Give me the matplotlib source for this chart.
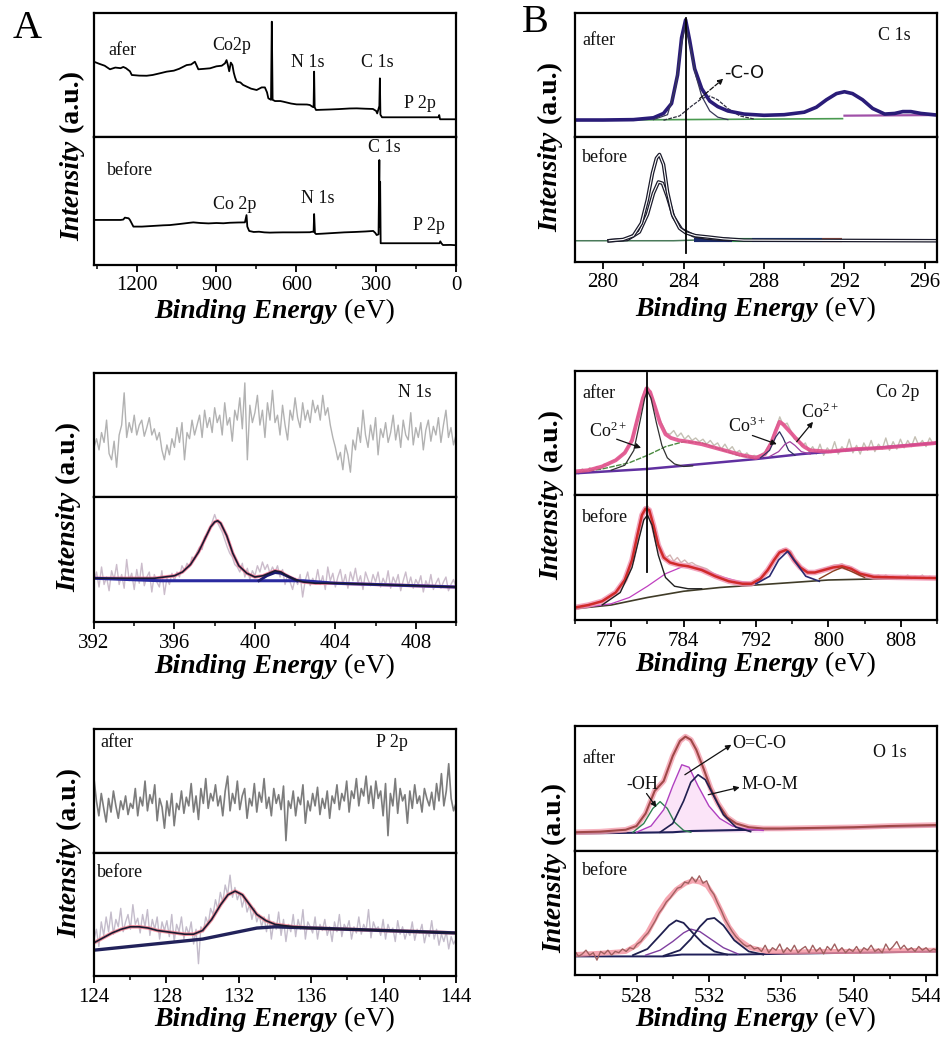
import numpy as np
import matplotlib
matplotlib.use("Agg")
import matplotlib.pyplot as plt
from matplotlib.ticker import MultipleLocator
from matplotlib.lines import Line2D
import matplotlib.transforms as mtransforms

plt.rcParams['font.family'] = ['Liberation Serif', 'DejaVu Serif']
plt.rcParams['mathtext.fontset'] = 'custom'
plt.rcParams['mathtext.rm'] = 'Liberation Serif'
plt.rcParams['mathtext.it'] = 'Liberation Serif:italic'
plt.rcParams['mathtext.bf'] = 'Liberation Serif:bold'

# ------------------------------------------------------------------ DATA
# Survey spectra (panel A top)
survey_after_ev = [1360,1340,1320,1300,1280,1260,1250,1240,1225,1218,1190,1162,1140,1110,1087,1060,1040,1012,995,981,975,968,945,924,900,880,868,862,857,852,846,840,835,830,824,810,800,786,770,749,730,718,710,705,695,692,689,680,660,649,620,599,560,549,540,535,533,531,526,500,473,440,400,373,340,312,300,296,288,286,284,278,200,100,66,63,60,30,3]
survey_after_int = [0.607,0.59,0.575,0.546,0.56,0.555,0.565,0.555,0.53,0.50,0.495,0.494,0.50,0.515,0.527,0.535,0.55,0.58,0.585,0.607,0.58,0.546,0.55,0.554,0.57,0.575,0.594,0.62,0.58,0.53,0.60,0.58,0.52,0.48,0.446,0.44,0.42,0.406,0.39,0.379,0.40,0.40,0.36,0.312,0.30,0.93,0.30,0.29,0.29,0.285,0.27,0.263,0.262,0.258,0.245,0.24,0.527,0.24,0.218,0.22,0.222,0.225,0.23,0.231,0.228,0.226,0.21,0.19,0.25,0.473,0.18,0.159,0.159,0.159,0.159,0.177,0.143,0.143,0.143]
survey_before_ev = [1360,1300,1260,1250,1244,1230,1225,1212,1180,1140,1100,1075,1040,1000,987,960,930,900,874,850,820,793,787,784,777,760,740,720,699,680,650,600,549,540,535,533,530,526,500,460,420,380,340,311,303,298,291,288,287,285,283,277,200,100,62,59,55,49,20,3]
survey_before_int = [0.352,0.352,0.352,0.355,0.37,0.365,0.352,0.30,0.30,0.305,0.31,0.312,0.32,0.33,0.333,0.328,0.325,0.328,0.326,0.33,0.332,0.333,0.39,0.30,0.266,0.258,0.26,0.255,0.253,0.254,0.255,0.255,0.256,0.26,0.258,0.398,0.25,0.242,0.245,0.25,0.255,0.258,0.262,0.266,0.25,0.234,0.24,0.82,0.30,0.65,0.17,0.17,0.17,0.17,0.17,0.185,0.17,0.156,0.157,0.155]

# N 1s
n1s_after_raw = [0.40,0.47,0.38,0.52,0.44,0.62,0.35,0.30,0.45,
 0.24,0.50,0.58,0.84,0.48,0.60,0.52,0.66,
 0.50,0.58,0.62,0.49,0.56,0.64,0.50,0.55,
 0.46,0.52,0.38,0.30,0.42,0.34,0.47,0.40,
 0.56,0.44,0.60,0.30,0.52,0.47,0.62,0.50,
 0.58,0.66,0.48,0.70,0.56,0.64,0.52,0.72,
 0.60,0.66,0.50,0.76,0.58,0.64,0.45,0.70,
 0.62,0.80,0.55,0.92,0.30,0.74,0.60,0.68,
 0.82,0.58,0.70,0.48,0.76,0.62,0.86,0.60,
 0.66,0.50,0.74,0.58,0.46,0.70,0.62,0.80,
 0.64,0.56,0.76,0.62,0.70,0.60,0.78,0.68,
 0.74,0.62,0.82,0.66,0.72,0.58,0.48,0.40,
 0.30,0.36,0.22,0.42,0.34,0.20,0.46,0.38,
 0.56,0.44,0.70,0.50,0.40,0.58,0.46,0.64,
 0.34,0.55,0.48,0.60,0.44,0.52,0.66,0.46,
 0.58,0.40,0.62,0.50,0.46,0.68,0.42,0.56,
 0.48,0.60,0.38,0.54,0.62,0.45,0.57,0.50,
 0.64,0.44,0.58,0.70,0.48,0.56,0.42,0.50]
n1s_before_raw = [0.33,0.40,0.28,0.44,0.30,0.36,0.25,0.41,0.34,
 0.46,0.30,0.38,0.27,0.50,0.33,0.39,0.26,
 0.42,0.31,0.47,0.29,0.36,0.40,0.24,0.38,
 0.32,0.28,0.41,0.22,0.35,0.30,0.39,0.33,
 0.40,0.36,0.45,0.41,0.47,0.44,0.52,0.50,
 0.56,0.60,0.58,0.68,0.70,0.74,0.80,0.86,
 0.80,0.76,0.72,0.66,0.60,0.55,0.52,0.46,
 0.44,0.40,0.47,0.36,0.43,0.34,0.41,0.37,
 0.45,0.40,0.48,0.42,0.46,0.39,0.44,0.40,
 0.45,0.36,0.42,0.30,0.38,0.32,0.26,0.35,
 0.30,0.38,0.20,0.33,0.40,0.29,0.35,0.31,
 0.42,0.30,0.37,0.26,0.44,0.33,0.39,0.28,
 0.36,0.42,0.30,0.38,0.27,0.40,0.33,0.43,
 0.31,0.37,0.26,0.40,0.34,0.29,0.38,0.32,
 0.40,0.28,0.35,0.30,0.41,0.27,0.36,0.31,
 0.38,0.25,0.33,0.40,0.29,0.36,0.27,0.34,
 0.30,0.37,0.24,0.33,0.28,0.38,0.26,0.31,
 0.35,0.27,0.32,0.36,0.25,0.30,0.34,0.28]
n1s_env_ev = [392,393,394,395,395.5,396,396.4,396.8,397.2,397.5,397.8,398.0,398.15,398.3,398.6,398.9,399.2,399.6,400.0,400.4,400.7,401.0,401.3,401.6,402.0,402.4,403,404,406,408,410]
n1s_env_int = [0.35,0.35,0.35,0.35,0.36,0.37,0.40,0.46,0.56,0.66,0.76,0.80,0.81,0.79,0.69,0.55,0.45,0.39,0.36,0.37,0.39,0.41,0.40,0.37,0.34,0.32,0.31,0.31,0.30,0.29,0.28]
n1s_base_ev = [392,395.3,402.4,404,410]
n1s_base_int = [0.35,0.33,0.33,0.31,0.28]
n1s_comp_ev = [400.2,400.6,401.0,401.3,401.7,402.1]
n1s_comp_int = [0.33,0.37,0.395,0.39,0.36,0.33]

# P 2p
p2p_after_raw = [0.60,0.42,0.30,0.48,0.36,0.25,0.44,0.33,0.50,0.38,
 0.28,0.42,0.35,0.46,0.31,0.40,0.36,0.52,0.30,0.45,
 0.38,0.58,0.34,0.47,0.40,0.55,0.26,0.44,0.37,0.20,
 0.42,0.30,0.48,0.22,0.40,0.35,0.50,0.32,0.45,0.38,
 0.56,0.33,0.46,0.27,0.52,0.40,0.60,0.36,0.48,0.42,
 0.55,0.38,0.46,0.30,0.50,0.62,0.34,0.48,0.40,0.58,
 0.35,0.46,0.52,0.28,0.44,0.38,0.56,0.33,0.49,0.41,
 0.60,0.36,0.45,0.30,0.52,0.40,0.47,0.35,0.54,0.10,
 0.42,0.36,0.50,0.30,0.45,0.39,0.55,0.24,0.42,0.34,
 0.48,0.38,0.53,0.31,0.44,0.36,0.50,0.28,0.46,0.40,
 0.55,0.35,0.48,0.42,0.58,0.33,0.50,0.44,0.60,0.38,
 0.52,0.46,0.62,0.40,0.54,0.36,0.58,0.44,0.50,0.30,
 0.56,0.14,0.48,0.38,0.60,0.32,0.52,0.42,0.47,0.24,
 0.50,0.36,0.55,0.40,0.46,0.33,0.52,0.44,0.38,0.49,
 0.35,0.56,0.42,0.64,0.38,0.50,0.72,0.44,0.34,0.40]
p2p_before_raw = [0.30,0.38,0.24,0.44,0.33,0.48,0.36,0.52,0.34,0.46,
 0.40,0.55,0.36,0.44,0.50,0.38,0.58,0.42,0.47,0.35,
 0.50,0.40,0.54,0.33,0.46,0.38,0.48,0.30,0.44,0.37,
 0.45,0.32,0.50,0.28,0.42,0.36,0.48,0.30,0.40,0.34,
 0.44,0.26,0.38,0.10,0.40,0.36,0.48,0.42,0.55,0.50,
 0.62,0.54,0.68,0.60,0.74,0.66,0.82,0.64,0.72,0.62,
 0.68,0.56,0.64,0.52,0.58,0.46,0.55,0.44,0.50,0.40,
 0.48,0.36,0.50,0.30,0.44,0.38,0.52,0.33,0.46,0.28,
 0.42,0.36,0.50,0.32,0.46,0.38,0.54,0.30,0.44,0.40,
 0.35,0.48,0.30,0.42,0.37,0.46,0.33,0.40,0.28,0.44,
 0.36,0.50,0.32,0.42,0.38,0.45,0.30,0.40,0.35,0.48,
 0.34,0.42,0.37,0.54,0.31,0.44,0.38,0.40,0.33,0.46,
 0.30,0.42,0.36,0.39,0.28,0.45,0.34,0.40,0.30,0.37,
 0.33,0.44,0.29,0.38,0.35,0.42,0.27,0.36,0.32,0.45,
 0.30,0.38,0.25,0.34,0.28,0.36,0.22,0.32,0.26,0.30]
p2p_env_ev = [124,124.5,125,125.5,126,126.5,127,127.5,128,128.5,129,129.5,130,130.5,131,131.4,131.8,132.2,132.6,133,133.5,134,135,136,138,140,142,144]
p2p_env_int = [0.27,0.31,0.35,0.38,0.40,0.40,0.39,0.37,0.36,0.35,0.34,0.34,0.37,0.46,0.58,0.66,0.69,0.66,0.58,0.50,0.45,0.42,0.40,0.39,0.38,0.37,0.36,0.35]
p2p_base_ev = [124,126,128,130,131,132,133,134,136,140,144]
p2p_base_int = [0.21,0.24,0.27,0.30,0.33,0.36,0.39,0.40,0.39,0.37,0.35]

# C 1s
c1s_after_ev = [278.6,280,281.5,282.5,283.0,283.4,283.7,283.9,284.1,284.3,284.55,284.9,285.3,285.7,286.2,287,288,289,290,290.6,291.1,291.6,292.0,292.4,292.9,293.4,294.0,294.5,294.9,295.3,295.8,296.6]
c1s_after_int = [0.137,0.137,0.14,0.155,0.19,0.27,0.50,0.80,0.945,0.78,0.55,0.39,0.29,0.245,0.21,0.185,0.175,0.18,0.20,0.24,0.30,0.35,0.365,0.35,0.30,0.23,0.185,0.19,0.205,0.205,0.19,0.177]
c1s_cc_ev = [282.5,283.2,283.6,283.9,284.1,284.3,284.6,284.9,285.3,285.7,286.2]
c1s_cc_int = [0.14,0.18,0.40,0.75,0.92,0.75,0.50,0.33,0.21,0.16,0.14]
c1s_co_ev = [283.0,283.8,284.4,284.9,285.3,285.7,286.2,286.8,287.5]
c1s_co_int = [0.135,0.17,0.25,0.31,0.33,0.30,0.23,0.17,0.145]
c1s_after_base_ev = [278.6,283.5,291.9,292.0,296.6]
c1s_after_base_int = [0.135,0.14,0.148,0.172,0.177]
c1s_before_ev = [280.3,281.0,281.5,281.9,282.2,282.45,282.65,282.8,283.0,283.2,283.45,283.8,284.1,284.6,285.2,286,287,296.6]
c1s_before_int = [0.17,0.18,0.21,0.31,0.50,0.71,0.83,0.86,0.78,0.56,0.38,0.27,0.235,0.21,0.20,0.185,0.175,0.17]
c1s_bcomp_ev = [280.3,281.2,281.8,282.2,282.5,282.75,282.95,283.2,283.5,283.9,284.5,285.2,286.2]
c1s_bcomp_int = [0.17,0.18,0.24,0.38,0.55,0.64,0.63,0.52,0.36,0.26,0.21,0.19,0.18]
c1s_before_base_ev = [278.6,283.5,284.5,296.6]
c1s_before_base_int = [0.17,0.17,0.175,0.17]

# Co 2p
co_after_env_ev = [772,773.5,775,776.5,777.5,778.3,779.0,779.5,779.9,780.3,780.8,781.4,782.0,782.6,783.5,784.5,786,787.5,789,790.5,792,793,793.7,794.2,794.6,795.0,795.5,796.0,796.6,797.3,798,800,803,806,809,812]
co_after_env_int = [0.19,0.20,0.23,0.28,0.34,0.44,0.64,0.78,0.86,0.83,0.72,0.58,0.49,0.46,0.44,0.43,0.41,0.38,0.35,0.32,0.30,0.33,0.42,0.52,0.59,0.57,0.53,0.49,0.44,0.39,0.36,0.35,0.37,0.38,0.40,0.42]
co_after_raw = [0.20,0.17,0.21,0.18,0.22,0.20,0.23,0.21,0.25,0.24,
 0.27,0.28,0.30,0.33,0.36,0.41,0.50,0.62,0.74,0.84,
 0.87,0.80,0.71,0.62,0.56,0.50,0.49,0.52,0.47,0.50,
 0.45,0.48,0.44,0.46,0.43,0.45,0.41,0.44,0.40,0.42,
 0.37,0.41,0.36,0.39,0.34,0.36,0.31,0.34,0.30,0.32,
 0.31,0.33,0.35,0.40,0.47,0.54,0.63,0.56,0.58,0.52,
 0.45,0.46,0.39,0.42,0.35,0.39,0.33,0.41,0.32,0.38,
 0.34,0.43,0.33,0.39,0.35,0.45,0.34,0.40,0.33,0.42,
 0.36,0.44,0.35,0.41,0.37,0.46,0.36,0.43,0.37,0.45,
 0.38,0.44,0.39,0.47,0.40,0.44,0.39,0.46,0.41,0.44]
co_after_base_ev = [772,780,786,792,797,812]
co_after_base_int = [0.175,0.21,0.25,0.29,0.33,0.42]
co_after_main_ev = [776,777.5,778.5,779.2,779.7,780.0,780.4,781.0,781.6,782.2,783,784,785]
co_after_main_int = [0.20,0.24,0.36,0.60,0.78,0.84,0.78,0.58,0.40,0.30,0.25,0.23,0.235]
co_after_sat_ev = [772,775,778,780,782,784,786,788,790,792]
co_after_sat_int = [0.18,0.21,0.26,0.32,0.39,0.43,0.42,0.37,0.32,0.295]
co_after_c3_ev = [792.5,793.5,794.2,794.6,795.0,795.6,796.3]
co_after_c3_int = [0.30,0.36,0.47,0.51,0.46,0.36,0.32]
co_after_c2_ev = [793.5,794.5,795.2,795.75,796.3,797.0,798]
co_after_c2_int = [0.31,0.35,0.41,0.43,0.40,0.35,0.33]
co_before_env_ev = [772,773.5,775,776.5,777.5,778.3,778.9,779.4,779.8,780.2,780.7,781.2,781.8,782.5,783.5,784.5,786,787.5,789,790.5,791.5,792.5,793.3,794.0,794.6,795.3,795.7,796.2,796.9,797.7,798.5,799.5,800.5,801.5,802.5,803.5,805,808,812]
co_before_env_int = [0.10,0.12,0.15,0.22,0.32,0.48,0.68,0.84,0.89,0.88,0.75,0.60,0.50,0.46,0.44,0.43,0.40,0.35,0.31,0.29,0.29,0.33,0.40,0.48,0.54,0.56,0.54,0.48,0.42,0.38,0.38,0.40,0.42,0.43,0.41,0.37,0.345,0.34,0.335]
co_before_raw = [0.11,0.09,0.12,0.10,0.13,0.12,0.14,0.15,0.16,0.18,
 0.21,0.22,0.26,0.29,0.35,0.41,0.53,0.69,0.82,0.90,
 0.91,0.80,0.71,0.60,0.54,0.50,0.52,0.47,0.50,0.46,
 0.48,0.45,0.46,0.44,0.43,0.42,0.41,0.39,0.37,0.36,
 0.35,0.33,0.32,0.31,0.30,0.29,0.30,0.28,0.30,0.30,
 0.32,0.34,0.37,0.42,0.46,0.51,0.55,0.57,0.56,0.55,
 0.49,0.46,0.42,0.40,0.39,0.38,0.39,0.40,0.41,0.42,
 0.43,0.44,0.44,0.45,0.43,0.43,0.41,0.40,0.38,0.37,
 0.37,0.36,0.35,0.36,0.34,0.36,0.34,0.35,0.33,0.35,
 0.34,0.36,0.33,0.35,0.34,0.36,0.33,0.35,0.34,0.35]
co_before_base_ev = [772,776,780,784,788,792,796,800,806,812]
co_before_base_int = [0.09,0.12,0.18,0.23,0.26,0.28,0.30,0.32,0.33,0.335]
co_before_main_ev = [775,777,778.3,779.1,779.6,780.0,780.5,781.2,782.0,783,784.5,786]
co_before_main_int = [0.12,0.22,0.42,0.66,0.80,0.84,0.76,0.52,0.34,0.27,0.25,0.25]
co_before_sat_ev = [773,776,778,780,782,784,786,788,790,792]
co_before_sat_int = [0.10,0.13,0.18,0.27,0.37,0.43,0.41,0.35,0.31,0.29]
co_before_p2_ev = [792,793.5,794.5,795.5,796.5,797.5,799]
co_before_p2_int = [0.29,0.35,0.48,0.55,0.45,0.35,0.31]
co_before_s2_ev = [799,800.5,801.5,802.5,804]
co_before_s2_int = [0.33,0.39,0.42,0.39,0.34]

# O 1s
o1s_after_env_ev = [524.6,526,527.4,528.0,528.5,529.0,529.5,530.0,530.4,530.7,531.0,531.3,531.7,532.1,532.5,533.0,533.5,534.2,535,536,538,540,542,544.6]
o1s_after_env_int = [0.15,0.155,0.17,0.20,0.30,0.48,0.56,0.76,0.88,0.915,0.89,0.81,0.66,0.50,0.38,0.27,0.22,0.19,0.18,0.18,0.185,0.19,0.20,0.208]
o1s_oh_ev = [527.8,528.4,528.9,529.3,529.7,530.1,530.6,531.0]
o1s_oh_int = [0.15,0.22,0.34,0.395,0.34,0.23,0.165,0.15]
o1s_oco_ev = [528.0,528.8,529.5,530.0,530.5,530.9,531.4,532.0,532.6,533.3,534.0,535]
o1s_oco_int = [0.15,0.20,0.33,0.52,0.69,0.67,0.52,0.36,0.26,0.20,0.175,0.165]
o1s_mom_ev = [529.3,530.0,530.6,531.0,531.4,531.8,532.3,532.8,533.5,534.3]
o1s_mom_int = [0.15,0.22,0.40,0.55,0.61,0.57,0.43,0.29,0.19,0.155]
o1s_after_base_ev = [524.6,530.0,531.0,544.6]
o1s_after_base_int = [0.14,0.15,0.16,0.20]
o1s_before_env_ev = [524.6,526,527.4,528.0,528.6,529.2,529.7,530.2,530.7,531.1,531.5,531.9,532.3,532.7,533.1,533.6,534.3,535.2,536.5,538,540,542,544.6]
o1s_before_env_int = [0.165,0.175,0.19,0.24,0.34,0.50,0.61,0.69,0.74,0.76,0.75,0.72,0.63,0.51,0.39,0.29,0.22,0.19,0.185,0.19,0.19,0.195,0.20]
o1s_before_raw = [0.19,0.15,0.17,0.20,0.16,0.18,0.12,0.19,0.17,0.20,
 0.16,0.19,0.18,0.21,0.19,0.22,0.21,0.25,0.27,0.31,
 0.34,0.39,0.44,0.50,0.54,0.59,0.62,0.66,0.70,0.71,
 0.75,0.74,0.79,0.75,0.80,0.74,0.76,0.69,0.65,0.58,
 0.52,0.45,0.40,0.35,0.31,0.28,0.25,0.23,0.24,0.21,
 0.22,0.19,0.24,0.18,0.22,0.20,0.25,0.18,0.22,0.19,
 0.24,0.18,0.21,0.23,0.18,0.24,0.19,0.22,0.17,0.23,
 0.20,0.25,0.19,0.22,0.18,0.21,0.19,0.23,0.18,0.22,
 0.20,0.24,0.19,0.21,0.18,0.25,0.20,0.23,0.27,0.21,
 0.24,0.20,0.22,0.19,0.23,0.20,0.22,0.19,0.21,0.20]
o1s_b1_ev = [527.8,528.6,529.3,529.8,530.2,530.6,531.1,531.7,532.3,533.0]
o1s_b1_int = [0.16,0.21,0.32,0.40,0.44,0.42,0.34,0.25,0.19,0.165]
o1s_b2_ev = [529.5,530.4,531.0,531.5,531.9,532.3,532.8,533.4,534.2,535.0]
o1s_b2_int = [0.155,0.20,0.29,0.39,0.45,0.46,0.40,0.28,0.19,0.165]
o1s_b3_ev = [528.5,529.3,530.0,530.6,531.0,531.5,532.1,532.8,533.6]
o1s_b3_int = [0.16,0.20,0.27,0.34,0.37,0.35,0.29,0.22,0.17]
o1s_before_base_ev = [524.6,529.5,530.5,533.5,544.6]
o1s_before_base_int = [0.15,0.15,0.165,0.165,0.19]

# ------------------------------------------------------------------ FIGURE
W, H = 940, 1039
fig = plt.figure(figsize=(W / 100, H / 100), dpi=100)


def add_ax(x0, y0, x1, y1):
    return fig.add_axes([x0 / W, 1 - y1 / H, (x1 - x0) / W, (y1 - y0) / H])


def pair(x0, x1, ya, ym, yb, xlim, major, minor, pad=4):
    a1 = add_ax(x0, ya, x1, ym)
    a2 = add_ax(x0, ym, x1, yb)
    for a in (a1, a2):
        a.set_xlim(*xlim)
        a.set_ylim(0, 1)
        a.set_yticks([])
        for s in a.spines.values():
            s.set_linewidth(1.6)
    a1.tick_params(axis='x', which='both', bottom=False, labelbottom=False)
    a2.xaxis.set_major_locator(MultipleLocator(major))
    a2.xaxis.set_minor_locator(MultipleLocator(minor))
    a2.tick_params(axis='x', which='major', direction='out', length=5,
                   width=1.3, labelsize=15, pad=pad)
    a2.tick_params(axis='x', which='minor', direction='out', length=3, width=1.1)
    return a1, a2


def lab(ax, x, y, s, ha='left', size=13):
    ax.text(x, y, s, ha=ha, va='center', fontsize=size, color='#111111')


def arrow(ax, xy, xytext, ls='-'):
    ax.annotate('', xy=xy, xytext=xytext,
                arrowprops=dict(arrowstyle='-|>', color='#111111', lw=0.9,
                                mutation_scale=8, shrinkA=0, shrinkB=0, ls=ls))


# ---------------- A top : survey
aA1, aA2 = pair(94, 456, 13, 137, 265, (1360, 0), 300, 150, pad=3)
aA1.plot(survey_after_ev, survey_after_int, color='k', lw=1.3)
aA2.plot(survey_before_ev, survey_before_int, color='k', lw=1.3)
lab(aA1, 1307, 0.70, 'afer')
lab(aA1, 842, 0.74, 'Co2p', ha='center')
lab(aA1, 556, 0.60, 'N 1s', ha='center')
lab(aA1, 297, 0.60, 'C 1s', ha='center')
lab(aA1, 135, 0.27, 'P 2p', ha='center')
lab(aA2, 1311, 0.74, 'before')
lab(aA2, 830, 0.47, 'Co 2p', ha='center')
lab(aA2, 518, 0.52, 'N 1s', ha='center')
lab(aA2, 270, 0.92, 'C 1s', ha='center')
lab(aA2, 101, 0.31, 'P 2p', ha='center')

# ---------------- B top : C 1s
aB1, aB2 = pair(575, 937, 13, 137, 262, (278.6, 296.6), 4, 2, pad=3)
aB1.plot(c1s_after_base_ev[:3], c1s_after_base_int[:3], color='#4a9a50', lw=1.2)
aB1.plot(c1s_after_base_ev[3:], c1s_after_base_int[3:], color='#a050a8', lw=1.6)
aB1.plot(c1s_co_ev, c1s_co_int, color='#303040', lw=0.9, ls=(0, (3, 1)))
aB1.plot(c1s_after_ev, c1s_after_int, color='#2a1c78', lw=2.6)
aB1.plot(c1s_cc_ev, c1s_cc_int, color='#383858', lw=0.9)
lab(aB1, 278.95, 0.78, 'after')
lab(aB1, 294.46, 0.82, 'C 1s', ha='center')
aB1.text(286.0, 0.52, '-C-O', ha='left', va='center', fontsize=13, color='#111111',
         family=['DejaVu Sans'])
arrow(aB1, (285.98, 0.47), (284.8, 0.31), ls='--')

aB2.plot(c1s_before_base_ev, c1s_before_base_int, color='#4a7a5a', lw=1.1)
seg_ev = [284.5, 286.4, 287.4, 290.9, 291.9]
seg_col = ['#1a2a6a', '#40c060', '#1a4aa0', '#a05040']
for i in range(4):
    aB2.plot([seg_ev[i], seg_ev[i + 1]], [0.174, 0.174], color=seg_col[i], lw=3.0,
             solid_capstyle='butt')
for xs, ys in ((c1s_bcomp_ev, c1s_bcomp_int), (c1s_before_ev, c1s_before_int)):
    aB2.plot(xs, ys, color='#1a1a2a', lw=2.6)
    aB2.plot(xs, ys, color='white', lw=0.8)
lab(aB2, 278.95, 0.84, 'before')

vt = mtransforms.blended_transform_factory(aB1.transData, fig.transFigure)
fig.add_artist(Line2D([284.1, 284.1], [1 - 18 / H, 1 - 253 / H], transform=vt,
                      color='k', lw=1.3))

# ---------------- A middle : N 1s
aN1, aN2 = pair(94, 456, 373, 497, 622, (392, 410), 4, 2)
aN1.plot(np.linspace(392, 410, len(n1s_after_raw)), n1s_after_raw, color='#b2b2b2', lw=1.0)
lab(aN1, 407.96, 0.84, 'N 1s', ha='center')
aN2.plot(np.linspace(392, 410, len(n1s_before_raw)), n1s_before_raw, color='#cbbccb', lw=1.0)
aN2.plot(n1s_env_ev, n1s_env_int, color='#f06a8a', lw=2.4, alpha=0.8)
aN2.plot(n1s_base_ev, n1s_base_int, color='#2a2aa0', lw=2.2)
aN2.plot(n1s_comp_ev, n1s_comp_int, color='#1a1a70', lw=2.0)
aN2.plot(n1s_env_ev, n1s_env_int, color='#1a1a30', lw=1.2)

# ---------------- B middle : Co 2p
aC1, aC2 = pair(575, 937, 371, 495, 620, (772, 812), 8, 4)
aC1.plot(np.linspace(772, 812, len(co_after_raw)), co_after_raw, color='#c4c0b4', lw=1.0)
aC1.plot(co_after_base_ev, co_after_base_int, color='#6030a0', lw=1.8)
aC1.plot(co_after_sat_ev, co_after_sat_int, color='#4a8a40', lw=1.0, ls=(0, (4, 1)))
aC1.plot(co_after_env_ev, co_after_env_int, color='#e2508c', lw=2.8, alpha=0.9)
aC1.plot(co_after_main_ev, co_after_main_int, color='#303030', lw=0.9)
aC1.plot(co_after_c3_ev, co_after_c3_int, color='#303060', lw=0.9)
aC1.plot(co_after_c2_ev, co_after_c2_int, color='#a040a0', lw=0.9)
lab(aC1, 772.8, 0.82, 'after')
lab(aC1, 807.7, 0.83, 'Co 2p', ha='center')
lab(aC1, 775.6, 0.51, 'Co$^{2+}$', ha='center')
arrow(aC1, (779.3, 0.38), (776.6, 0.45))
lab(aC1, 791.0, 0.55, 'Co$^{3+}$', ha='center')
arrow(aC1, (794.3, 0.41), (791.6, 0.48))
lab(aC1, 799.1, 0.67, 'Co$^{2+}$', ha='center')
arrow(aC1, (798.3, 0.59), (796.5, 0.43))

aC2.plot(np.linspace(772, 812, len(co_before_raw)), co_before_raw, color='#d4b4b4', lw=1.0)
aC2.plot(co_before_base_ev, co_before_base_int, color='#403c28', lw=1.2)
aC2.plot(co_before_sat_ev, co_before_sat_int, color='#c040c0', lw=0.9)
aC2.plot(co_before_env_ev, co_before_env_int, color='#f090b0', lw=4.0, alpha=0.8)
aC2.plot(co_before_env_ev, co_before_env_int, color='#d02a2a', lw=1.8)
aC2.plot(co_before_main_ev, co_before_main_int, color='#202020', lw=1.0)
aC2.plot(co_before_p2_ev, co_before_p2_int, color='#2a2a70', lw=1.2)
aC2.plot(co_before_s2_ev, co_before_s2_int, color='#8a4020', lw=1.0)
lab(aC2, 772.8, 0.82, 'before')

vt2 = mtransforms.blended_transform_factory(aC1.transData, fig.transFigure)
fig.add_artist(Line2D([780.0, 780.0], [1 - 373 / H, 1 - 572 / H], transform=vt2,
                      color='k', lw=1.3))

# ---------------- A bottom : P 2p
aP1, aP2 = pair(94, 456, 729, 853, 976, (124, 144), 4, 2)
aP1.plot(np.linspace(124, 144, len(p2p_after_raw)), p2p_after_raw, color='#7c7c7c', lw=1.2)
lab(aP1, 124.33, 0.89, 'after')
lab(aP1, 140.46, 0.89, 'P 2p', ha='center')
aP2.plot(np.linspace(124, 144, len(p2p_before_raw)), p2p_before_raw, color='#c4bccb', lw=1.0)
aP2.plot(p2p_env_ev, p2p_env_int, color='#f07a8a', lw=2.6, alpha=0.8)
aP2.plot(p2p_base_ev, p2p_base_int, color='#22225a', lw=2.4)
aP2.plot(p2p_env_ev, p2p_env_int, color='#1a1a30', lw=1.2)
lab(aP2, 124.17, 0.84, 'before')

# ---------------- B bottom : O 1s
aO1, aO2 = pair(575, 937, 726, 851, 975, (524.6, 544.6), 4, 2)
aO1.fill_between(o1s_oco_ev, o1s_oco_int, 0.15, color='#fbe4f8', lw=0)
aO1.plot(o1s_after_base_ev, o1s_after_base_int, color='#20205a', lw=1.5)
aO1.plot(o1s_after_env_ev, o1s_after_env_int, color='#f4a0b0', lw=4.0, alpha=0.8)
aO1.plot(o1s_after_env_ev, o1s_after_env_int, color='#a04848', lw=1.5)
aO1.plot(o1s_oh_ev, o1s_oh_int, color='#2f7f50', lw=1.0)
aO1.plot(o1s_oco_ev, o1s_oco_int, color='#b040c0', lw=1.0)
aO1.plot(o1s_mom_ev, o1s_mom_int, color='#202050', lw=1.2)
lab(aO1, 524.99, 0.74, 'after')
lab(aO1, 541.98, 0.79, 'O 1s', ha='center')
lab(aO1, 528.3, 0.53, '-OH', ha='center')
arrow(aO1, (529.1, 0.35), (528.55, 0.46))
lab(aO1, 533.3, 0.86, 'O=C-O')
arrow(aO1, (533.24, 0.85), (530.67, 0.61))
lab(aO1, 533.8, 0.53, 'M-O-M')
arrow(aO1, (533.7, 0.51), (531.96, 0.45))

aO2.plot(o1s_before_base_ev, o1s_before_base_int, color='#20205a', lw=1.4)
aO2.plot(o1s_before_env_ev, o1s_before_env_int, color='#f4909e', lw=3.6, alpha=0.8)
aO2.plot(np.linspace(524.6, 544.6, len(o1s_before_raw)), o1s_before_raw, color='#a06060', lw=1.0)
aO2.plot(o1s_b3_ev, o1s_b3_int, color='#8040a0', lw=1.0)
aO2.plot(o1s_b1_ev, o1s_b1_int, color='#202050', lw=1.3)
aO2.plot(o1s_b2_ev, o1s_b2_int, color='#202050', lw=1.3)
lab(aO2, 524.99, 0.84, 'before')

# ---------------- Panel letters
fig.text(27 / W, 1 - 28 / H, 'A', fontsize=29, ha='center', va='center')
fig.text(535 / W, 1 - 22 / H, 'B', fontsize=29, ha='center', va='center')

# ---------------- axis labels (mixed styles)
xlab_pos = [(275, 309), (756, 307), (275, 664), (756, 662), (275, 1017), (756, 1017)]
ylab_pos = [(70, 156), (548, 147), (66, 507), (549, 495), (67, 853), (552, 868)]
xl_texts = []
for cx, cy in xlab_pos:
    t1 = fig.text(0, 0, 'Binding Energy', fontsize=20, fontweight='bold',
                  fontstyle='italic', ha='left', va='baseline')
    t2 = fig.text(0, 0, ' (eV)', fontsize=20, ha='left', va='baseline')
    xl_texts.append((cx, cy, t1, t2))
yl_texts = []
for cx, cy in ylab_pos:
    t1 = fig.text(0, 0, 'Intensity', fontsize=20, fontweight='bold', fontstyle='italic',
                  rotation=90, rotation_mode='anchor', ha='left', va='baseline')
    t2 = fig.text(0, 0, ' (a.u.)', fontsize=20, fontweight='bold',
                  rotation=90, rotation_mode='anchor', ha='left', va='baseline')
    yl_texts.append((cx, cy, t1, t2))

fig.canvas.draw()
r = fig.canvas.get_renderer()
for cx, cy, t1, t2 in xl_texts:
    w1 = t1.get_window_extent(r).width
    w2 = t2.get_window_extent(r).width
    x0 = cx - (w1 + w2) / 2
    yb = 1 - (cy + 9) / H
    t1.set_position((x0 / W, yb))
    t2.set_position(((x0 + w1) / W, yb))
for cx, cy, t1, t2 in yl_texts:
    h1 = t1.get_window_extent(r).height
    h2 = t2.get_window_extent(r).height
    y0 = cy + (h1 + h2) / 2
    ax_ = (cx + 9) / W
    t1.set_position((ax_, 1 - y0 / H))
    t2.set_position((ax_, 1 - (y0 - h1) / H))

fig.savefig('out.png', dpi=100)
